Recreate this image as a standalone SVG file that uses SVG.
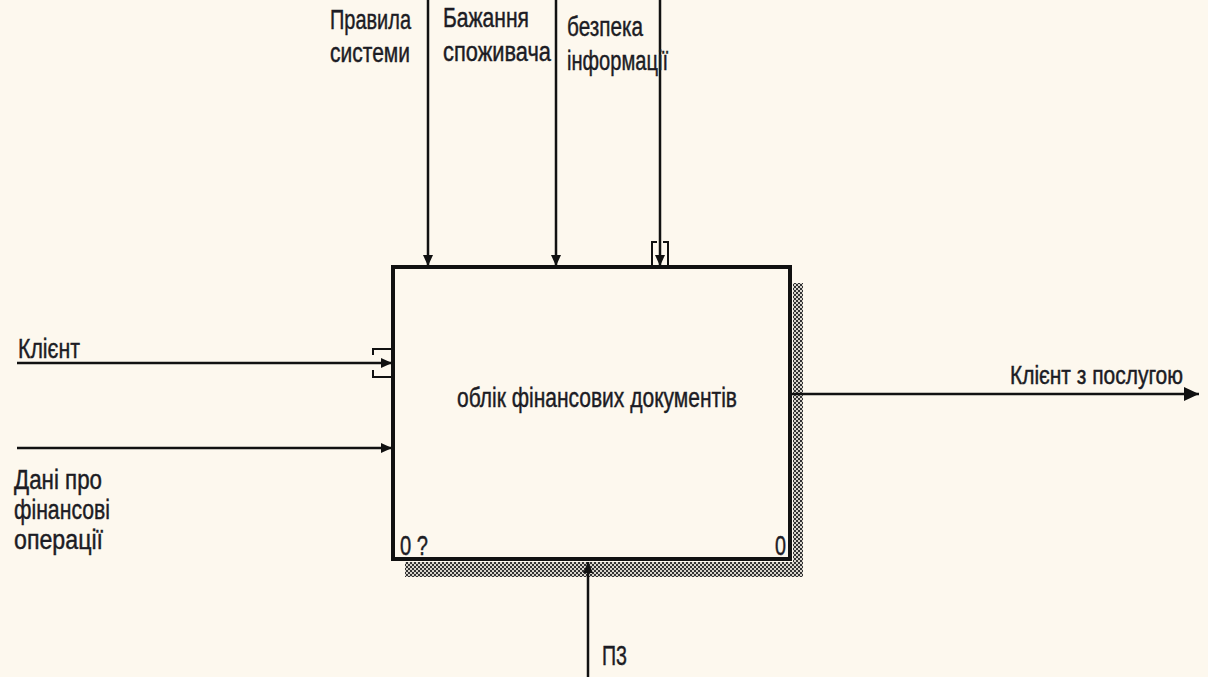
<svg xmlns="http://www.w3.org/2000/svg" width="1208" height="677" viewBox="0 0 1208 677">
  <style>
    .lbl { font-family: "Liberation Sans", Arial, sans-serif; font-size: 27px; fill: #1c1c24; stroke: #1c1c24; stroke-width: 0.45; }
    .arrow { stroke: #111; stroke-width: 2.5; fill: none; }
    .tun { stroke: #111; stroke-width: 2; fill: none; }
  </style>
  <defs>
    <marker id="ah" markerUnits="userSpaceOnUse" markerWidth="12" markerHeight="10" refX="11" refY="5" orient="auto">
      <path d="M0,0 L11,5 L0,10 z" fill="#111"/>
    </marker>
    <marker id="ahBig" markerUnits="userSpaceOnUse" markerWidth="16" markerHeight="14" refX="15" refY="7" orient="auto">
      <path d="M0,0 L15,7 L0,14 z" fill="#111"/>
    </marker>
    <pattern id="hatch" patternUnits="userSpaceOnUse" width="4" height="4">
      <rect width="4" height="4" fill="#d8d4cc"/>
      <rect x="0" y="0" width="2" height="2" fill="#333"/>
      <rect x="2" y="2" width="2" height="2" fill="#333"/>
    </pattern>
  </defs>
  <rect x="0" y="0" width="1208" height="677" fill="#fdf8ee"/>

  <g id="node-A0">
    <rect x="793" y="283" width="10" height="294" fill="url(#hatch)"/>
    <rect x="405" y="562" width="398" height="15" fill="url(#hatch)"/>
    <rect x="393" y="267" width="397" height="292" fill="#fdf8ee" stroke="#111" stroke-width="4"/>
    <text class="lbl" x="457" y="407" textLength="280" lengthAdjust="spacingAndGlyphs">облік фінансових документів</text>
    <text class="lbl" x="400" y="555" textLength="28" lengthAdjust="spacingAndGlyphs">0 ?</text>
    <text class="lbl" x="775" y="555" textLength="11" lengthAdjust="spacingAndGlyphs">0</text>
  </g>

  <g id="connectors">
    <line class="arrow" x1="428" y1="0" x2="428" y2="266" marker-end="url(#ah)"/>
    <line class="arrow" x1="556" y1="0" x2="556" y2="266" marker-end="url(#ah)"/>
    <line class="arrow" x1="660" y1="0" x2="660" y2="266" marker-end="url(#ah)"/>
    <path class="tun" d="M657,242 H652 V266 M663,242 H668 V266"/>
    <line class="arrow" x1="17" y1="363" x2="392" y2="363" marker-end="url(#ah)"/>
    <path class="tun" d="M373,355 V349 H392 M373,370 V377 H392"/>
    <line class="arrow" x1="17" y1="448" x2="392" y2="448" marker-end="url(#ah)"/>
    <line class="arrow" x1="792" y1="394" x2="1199" y2="394" marker-end="url(#ahBig)"/>
    <line class="arrow" x1="588" y1="677" x2="588" y2="562" marker-end="url(#ah)"/>
  </g>

  <g id="labels">
    <text class="lbl" x="330" y="29" textLength="81" lengthAdjust="spacingAndGlyphs">Правила</text>
    <text class="lbl" x="330" y="62" textLength="80" lengthAdjust="spacingAndGlyphs">системи</text>
    <text class="lbl" x="443" y="27" textLength="86" lengthAdjust="spacingAndGlyphs">Бажання</text>
    <text class="lbl" x="443" y="61" textLength="108" lengthAdjust="spacingAndGlyphs">споживача</text>
    <text class="lbl" x="567" y="36" textLength="76" lengthAdjust="spacingAndGlyphs">безпека</text>
    <text class="lbl" x="567" y="70" textLength="101" lengthAdjust="spacingAndGlyphs">інформації</text>
    <text class="lbl" x="18" y="358" textLength="62" lengthAdjust="spacingAndGlyphs">Клієнт</text>
    <text class="lbl" x="14" y="489" textLength="88" lengthAdjust="spacingAndGlyphs">Дані про</text>
    <text class="lbl" x="14" y="519" textLength="96" lengthAdjust="spacingAndGlyphs">фінансові</text>
    <text class="lbl" x="14" y="549" textLength="89" lengthAdjust="spacingAndGlyphs">операції</text>
    <text class="lbl" x="1183" y="384" text-anchor="end" style="font-size:25px" textLength="173" lengthAdjust="spacingAndGlyphs">Клієнт з послугою</text>
    <text class="lbl" x="602" y="665" textLength="25" lengthAdjust="spacingAndGlyphs">П3</text>
  </g>
</svg>
